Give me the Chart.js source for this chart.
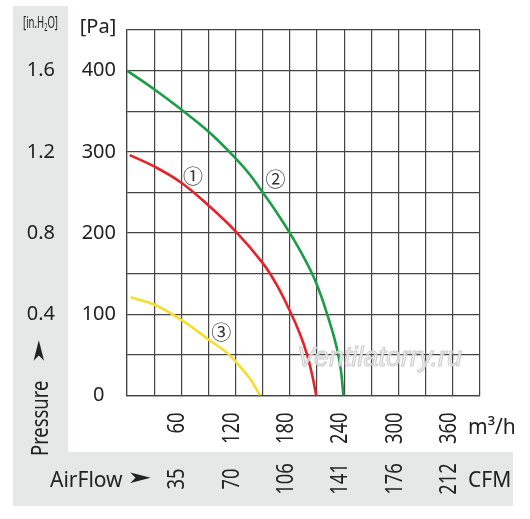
<!DOCTYPE html>
<html>
<head>
<meta charset="utf-8">
<script src="https://cdn.jsdelivr.net/npm/chart.js@4.4.1/dist/chart.umd.min.js"></script>
<style>
  html, body { margin: 0; padding: 0; background: #fff; }
</style>
</head>
<body>
<canvas id="fanChart" width="530" height="519"></canvas>
<script>
// tick labels
const flowTicks = [60, 120, 180, 240, 300, 360];        // m3/h
const cfmTicks = [35, 70, 106, 141, 176, 212];          // CFM under the same ticks
const paTicks = [0, 100, 200, 300, 400];                // Pa
const inH2OTicks = ['', '0.4', '0.8', '1.2', '1.6'];    // in.H2O next to Pa

// curve 1 (red)
const flow1 = [3, 30, 60, 90, 120, 150, 165, 180, 191, 199, 205, 209];
const pressure1 = [296, 282, 262, 234, 202, 163, 137, 104, 76, 50, 23, 0];
// curve 2 (green)
const flow2 = [0, 30, 60, 90, 120, 135, 150, 165, 180, 193, 205, 214, 222, 229, 234, 237, 239];
const pressure2 = [400, 377, 352, 325, 292, 273, 250, 226, 200, 175, 149, 124, 97, 71, 47, 25, 0];
// curve 3 (yellow)
const flow3 = [4, 30, 60, 90, 113, 129, 137, 147];
const pressure3 = [121, 112, 93, 69, 50, 30, 19, 0];

// curve tags
const tagText = ['\u2460', '\u2461', '\u2462'];
const tagFlow = [73, 164, 104];
const tagPressure = [270, 266, 78];

const toPoints = (xs, ys) => xs.map((x, i) => ({ x: x, y: ys[i] }));

const inkColor = '#222';
const gridColor = '#444';
const panelColor = '#e6e7e7';
const squeeze = 0.8; // the rotated labels use a narrow face

function rotatedText(ctx, text, x, y, align, baseOffset) {
    ctx.save();
    ctx.translate(x, y);
    ctx.rotate(-Math.PI / 2);
    ctx.scale(squeeze, 1);
    ctx.textAlign = align;
    ctx.textBaseline = 'alphabetic';
    ctx.fillText(text, 0, baseOffset);
    ctx.restore();
}

// gray panels, captions, rotated tick labels
const decorPlugin = {
    id: 'decor',
    beforeDraw(chart) {
        const ctx = chart.ctx;
        ctx.save();
        ctx.fillStyle = panelColor;
        ctx.fillRect(13, 6, 55, 446);
        ctx.fillRect(13, 452, 500, 54);
        ctx.restore();
    },
    afterDatasetsDraw(chart) {
        const ctx = chart.ctx;
        const xs = chart.scales.x;
        const ys = chart.scales.y;
        ctx.save();

        // curve tags
        ctx.fillStyle = '#333';
        ctx.font = '20px "Noto Sans CJK JP"';
        ctx.textAlign = 'center';
        ctx.textBaseline = 'middle';
        tagText.forEach((t, i) => {
            ctx.fillText(t, xs.getPixelForValue(tagFlow[i]), ys.getPixelForValue(tagPressure[i]));
        });

        // watermark
        ctx.font = 'italic 27px "Liberation Sans"';
        ctx.textAlign = 'left';
        ctx.textBaseline = 'alphabetic';
        ctx.fillStyle = 'rgba(238,238,238,0.85)';
        ctx.strokeStyle = 'rgba(200,200,200,0.9)';
        ctx.lineWidth = 1;
        ctx.fillText('Ventilatorry.ru', 297, 366);
        ctx.strokeText('Ventilatorry.ru', 297, 366);
        ctx.restore();
    },
    afterDraw(chart) {
        const ctx = chart.ctx;
        const xs = chart.scales.x;
        ctx.save();
        ctx.fillStyle = inkColor;

        // [in.H2O], squeezed into the panel head
        ctx.textBaseline = 'alphabetic';
        ctx.textAlign = 'left';
        ctx.font = '17px "Noto Sans"';
        const w0 = ctx.measureText('[in.H').width;
        const w2 = ctx.measureText('O]').width;
        ctx.font = '10px "Noto Sans"';
        const w1 = ctx.measureText('2').width;
        ctx.save();
        ctx.translate(23, 28);
        ctx.scale(35 / (w0 + w1 + w2), 1);
        ctx.font = '17px "Noto Sans"';
        ctx.fillText('[in.H', 0, 0);
        ctx.fillText('O]', w0 + w1, 0);
        ctx.font = '10px "Noto Sans"';
        ctx.fillText('2', w0, 3);
        ctx.restore();

        // [Pa]
        ctx.font = '20px "Noto Sans"';
        ctx.textAlign = 'center';
        ctx.fillText('[Pa]', 98, 33);

        // m3/h
        ctx.font = '21px "Noto Sans"';
        ctx.textAlign = 'left';
        ctx.fillText('m\u00b3/h', 468, 434);

        // AirFlow + arrow, CFM
        ctx.fillText('AirFlow', 50, 487);
        ctx.fillText('CFM', 468, 487);
        ctx.save();
        ctx.font = '30px "DejaVu Sans"';
        ctx.translate(127, 479);
        ctx.scale(1, 0.55);
        ctx.textBaseline = 'middle';
        ctx.fillText('\u27a4', 0, 0);
        ctx.restore();

        // m3/h values, then CFM values, on the x scale
        ctx.font = '23px "Noto Sans"';
        flowTicks.forEach((v, i) => {
            const px = xs.getPixelForValue(v);
            rotatedText(ctx, String(v), px, xs.top + 17, 'right', 3);
            rotatedText(ctx, String(cfmTicks[i]), px, 479, 'center', 3);
        });

        // Pressure + arrow
        rotatedText(ctx, 'Pressure', 48, 456, 'left', 0);
        ctx.save();
        ctx.translate(40, 364);
        ctx.rotate(-Math.PI / 2);
        ctx.scale(1, 0.55);
        ctx.font = '30px "DejaVu Sans"';
        ctx.textAlign = 'left';
        ctx.textBaseline = 'middle';
        ctx.fillText('\u27a4', 0, 0);
        ctx.restore();

        ctx.restore();
    }
};

const ctx = document.getElementById('fanChart').getContext('2d');
new Chart(ctx, {
    type: 'scatter',
    data: {
        datasets: [
            { label: '1', data: toPoints(flow1, pressure1), borderColor: '#e6232a' },
            { label: '2', data: toPoints(flow2, pressure2), borderColor: '#1a9e45' },
            { label: '3', data: toPoints(flow3, pressure3), borderColor: '#f5df2c' },
        ],
    },
    options: {
        responsive: false,
        animation: false,
        showLine: true,
        layout: { padding: { left: 13, top: 30, right: 50, bottom: 67 } },
        elements: {
            point: { radius: 0 },
            line: { borderWidth: 2.6, tension: 0.4, fill: false },
        },
        plugins: {
            legend: { display: false },
            tooltip: { enabled: false },
        },
        scales: {
            x: {
                type: 'linear',
                position: 'bottom',
                min: 0,
                max: 390,
                grid: { color: gridColor, lineWidth: 1.2, drawTicks: false },
                border: { color: gridColor, width: 1.2 },
                ticks: { stepSize: 30, display: false },
                afterFit: s => { s.height = 56.5; },
            },
            y: {
                position: 'left',
                weight: 1,
                min: 0,
                max: 450,
                grid: { color: gridColor, lineWidth: 1.2, drawTicks: false },
                border: { color: gridColor, width: 1.2 },
                ticks: {
                    stepSize: 50,
                    padding: 11,
                    crossAlign: 'center',
                    color: inkColor,
                    font: { family: 'Noto Sans', size: 20 },
                    callback: v => paTicks.includes(v) ? String(v) : '',
                },
                afterFit: s => { s.width = 59; },
            },
            yIn: {
                position: 'left',
                weight: 2,
                min: 0,
                max: 450,
                grid: { display: false, drawTicks: false },
                border: { display: false },
                ticks: {
                    stepSize: 50,
                    padding: 13,
                    crossAlign: 'center',
                    color: inkColor,
                    font: { family: 'Noto Sans', size: 20 },
                    callback: v => {
                        const i = paTicks.indexOf(v);
                        return i >= 0 ? inH2OTicks[i] : '';
                    },
                },
                afterFit: s => { s.width = 55; },
            },
        },
    },
    plugins: [decorPlugin],
});
</script>
</body>
</html>
